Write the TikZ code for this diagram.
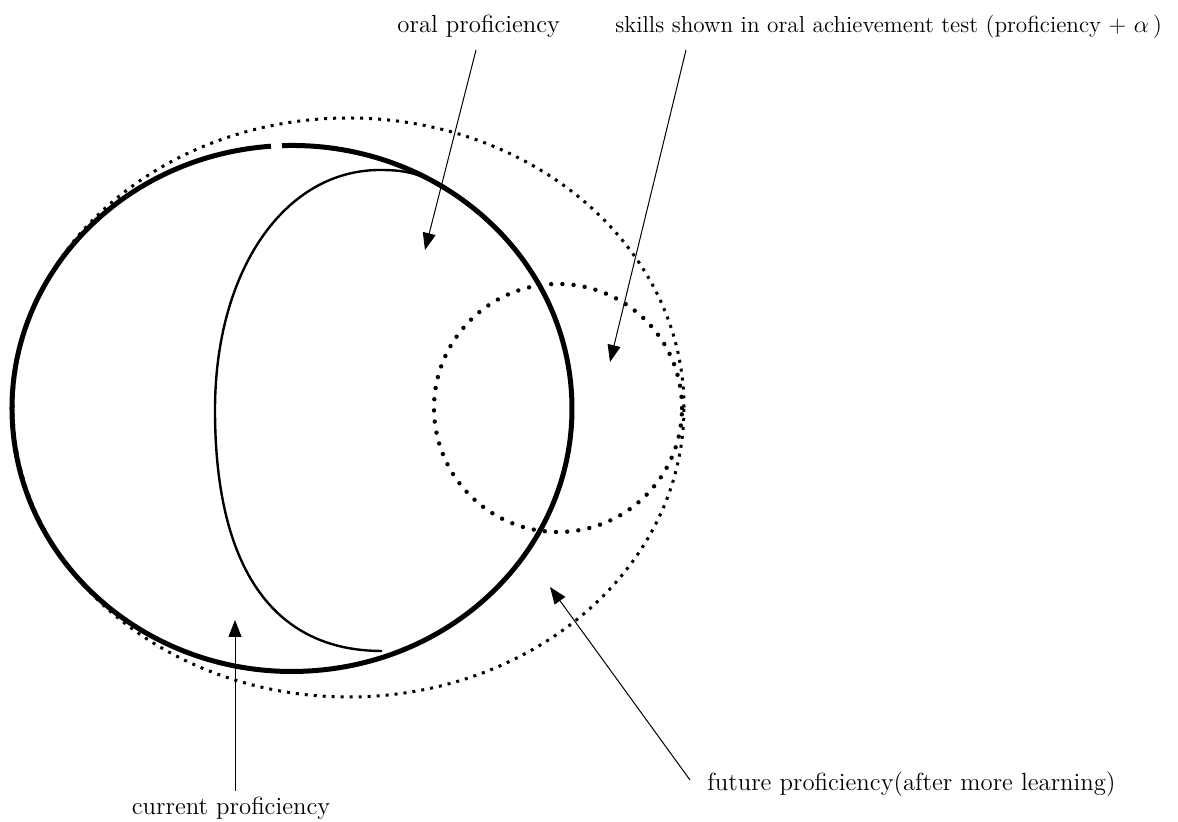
\documentclass[tikz,border=0pt]{standalone}
\usetikzlibrary{arrows.meta}
\begin{document}
\begin{tikzpicture}[x=0.5pt,y=0.5pt,
  thickring/.style={line width=2.5pt},
  thinring/.style={line width=1.2pt},
  squaredots/.style={line width=1.5pt,dash pattern=on 1.5pt off 3pt},
  rounddots/.style={line width=2.2pt,line cap=round,dash pattern=on 0pt off 5.6pt},
  pointer/.style={line width=0.5pt,-{Triangle[length=8.5pt,width=6.5pt]}},
  lbl/.style={inner sep=0pt,font=\fontsize{12.4}{14}\selectfont}]
\useasboundingbox (0,0) rectangle (1178,822);
% shapes
\coordinate (cThick) at (292,413.5);
\coordinate (cBig) at (348.5,414.5);
\coordinate (cSmall) at (558,414);
\draw[squaredots] (cBig) ellipse[x radius=167.75pt,y radius=144.75pt];
\draw[rounddots] (cSmall) circle[radius=62pt];
\draw[thickring] (271.0,675.76) arc[start angle=94.3,end angle=452.05,x radius=140pt,y radius=131.5pt];
\draw[thinring] (428,643) .. controls (412,650) and (400,652) .. (380,652)
  .. controls (284.3,652) and (215,551.2) .. (215,412)
  .. controls (215,252.3) and (274.5,171) .. (382,171);
% labels
\node[lbl,anchor=base west] (oral) at (397,789) {oral proficiency};
\node[lbl,anchor=base west,font=\fontsize{11.6}{14}\selectfont] (skills) at (615,789) {skills shown in oral achievement test (proficiency + $\alpha\,$)};
\node[lbl,anchor=base west] (future) at (707,31) {future proficiency(after more learning)};
\node[lbl,anchor=base] (current) at (231,7) {current proficiency};
% arrows
\coordinate (oralS) at (476,772);
\coordinate (oralT) at (425,572);
\coordinate (skillsS) at (686,772);
\coordinate (skillsT) at (610,460);
\coordinate (futureS) at (690,42);
\coordinate (futureT) at (550,235);
\coordinate (currentS) at (235,31);
\coordinate (currentT) at (235,202);
\draw[pointer] (oralS) -- (oralT);
\draw[pointer] (skillsS) -- (skillsT);
\draw[pointer] (futureS) -- (futureT);
\draw[pointer] (currentS) -- (currentT);
\end{tikzpicture}
\end{document}
